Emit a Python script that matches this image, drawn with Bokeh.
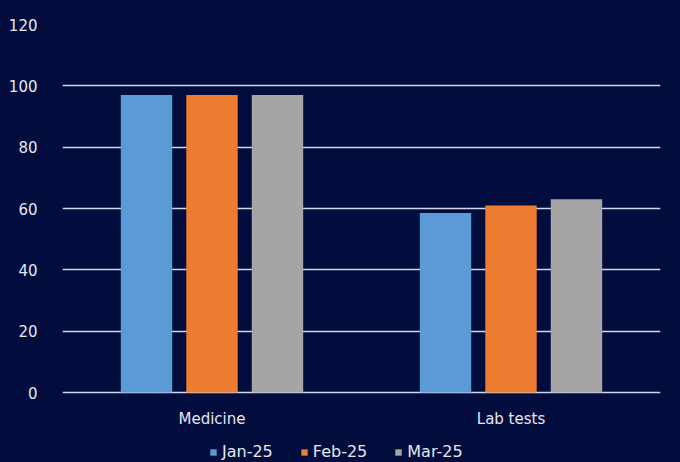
from bokeh.plotting import figure
from bokeh.models import FactorRange, Range1d, FixedTicker, ColumnDataSource, Legend, LegendItem
from bokeh.transform import dodge
from bokeh.embed import file_html
from bokeh.resources import INLINE

categories = ["Medicine", "Lab tests"]
months = ["Jan-25", "Feb-25", "Mar-25"]
jan = [97, 58.5]
feb = [97, 61]
mar = [97, 63]
colors = ["#5B9BD5", "#ED7D31", "#A5A5A5"]
y_ticks = [0, 20, 40, 60, 80, 100, 120]

BG = "#030D3D"
GRID = "#D3D6EA"
TXT = "#E4E6F0"
FONT = "DejaVu Sans"

# frame runs to the bottom of the page so the legend can sit inside it;
# 0..120 occupies 368 px, the extra 70 px below zero hold category labels + legend
Y_MIN = -70 * 120 / 368.0

src = ColumnDataSource(data=dict(cat=categories, jan=jan, feb=feb, mar=mar))

p = figure(width=680, height=462, output_backend="svg", toolbar_location=None,
           x_range=FactorRange(*categories, range_padding=0),
           y_range=Range1d(Y_MIN, 120),
           background_fill_color=BG, border_fill_color=BG,
           min_border_left=62, min_border_right=20, min_border_top=24, min_border_bottom=0)
p.outline_line_color = None

offsets = [-0.219, 0.0, 0.219]
renderers = []
for key, off, col in zip(["jan", "feb", "mar"], offsets, colors):
    r = p.vbar(x=dodge("cat", off, range=p.x_range), top=key, bottom=0, width=0.172,
               source=src, fill_color=col, line_color=None)
    renderers.append(r)

# category labels under the zero line
p.text(x="cat", y=0, text="cat", source=src, y_offset=26,
       text_align="center", text_baseline="middle", text_color=TXT,
       text_font={"value": FONT}, text_font_size="15px")

p.xaxis.visible = False
p.xgrid.grid_line_color = None
p.ygrid.grid_line_color = GRID
p.ygrid.grid_line_width = 1.5
p.yaxis.ticker = FixedTicker(ticks=y_ticks)

ax = p.yaxis[0]
ax.axis_line_color = None
ax.major_tick_line_color = None
ax.minor_tick_line_color = None
ax.major_label_text_color = TXT
ax.major_label_text_font = FONT
ax.major_label_text_font_size = "15px"
ax.major_label_standoff = 19

legend = Legend(items=[LegendItem(label=m, renderers=[r]) for m, r in zip(months, renderers)],
                orientation="horizontal", location=(147, 1),
                background_fill_alpha=0, border_line_color=None,
                label_text_color=TXT, label_text_font=FONT, label_text_font_size="16px",
                glyph_width=8, glyph_height=8, label_standoff=5, spacing=27,
                padding=0, margin=0)
p.add_layout(legend, "center")

html = file_html(p, INLINE)
html = html.replace("</head>", "<style>html, body { background-color: %s; }</style></head>" % BG, 1)
open("out.html", "w").write(html)
